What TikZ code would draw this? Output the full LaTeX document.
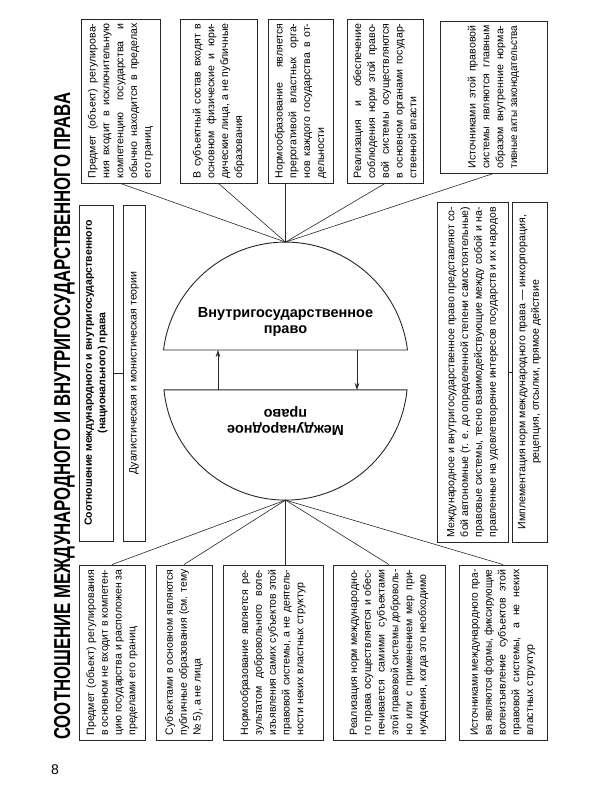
\documentclass[tikz,border=0pt]{standalone}
\usepackage{fontspec}
\setmainfont{Liberation Sans}
\usepackage{graphicx}
\usetikzlibrary{arrows.meta}
\newcommand\jl[1]{\setbox0=\hbox{#1}\ifdim\wd0>\hsize\hbox to\hsize{\resizebox{\hsize}{\height}{#1}}\else\hbox to\hsize{\unhbox0}\fi}
\newcommand\jn[1]{\hbox{#1}}
\newcommand\tb[2]{\vbox{\hsize=#1pt\relax\parindent=0pt\parskip=0pt\lineskiplimit=0pt\fontsize{10.6}{13.8}\selectfont #2}}
\tikzset{
  box/.style={draw=black!85, line width=0.9pt, rotate=90, inner sep=0pt, font=\fontsize{10.6}{13.4}\selectfont},
  link/.style={draw=black!85, line width=0.6pt},
  dome/.style={draw=black!85, line width=0.9pt},
  ctext/.style={font=\bfseries\fontsize{14.5}{15.5}\selectfont, align=center, inner sep=0pt},
  arr/.style={draw=black!85, line width=0.6pt, -{Stealth[length=7pt,width=4.5pt]}}
}
\begin{document}
\begin{tikzpicture}[x=1pt,y=1pt]
\useasboundingbox (0,0) rectangle (600,-800);
% title and page number
\node[rotate=90, anchor=base west, inner sep=0pt, font=\bfseries\fontsize{23}{23}\selectfont] (title) at (70,-740)
  {\resizebox{647pt}{\height}{СООТНОШЕНИЕ МЕЖДУНАРОДНОГО И ВНУТРИГОСУДАРСТВЕННОГО ПРАВА}};
\node[font=\fontsize{14}{14}\selectfont, inner sep=0pt] (pg) at (55,-770) {8};
% top boxes
\node[box, minimum width=164pt, minimum height=79pt] (T1) at (120.5,-101) {\tb{155}{%
\jl{Предмет (объект) регулирова-}
\jl{ния входит в исключительную}
\jl{компетенцию государства и}
\jl{обычно находится в пределах}
\jn{его границ}}};
\node[box, minimum width=164pt, minimum height=77pt] (T2) at (218.5,-101) {\tb{155}{%
\jl{В субъектный состав входят в}
\jl{основном физические и юри-}
\jl{дические лица, а не публичные}
\jn{образования}}};
\node[box, minimum width=164pt, minimum height=65pt] (T3) at (300.5,-101) {\tb{155}{%
\jl{Нормообразование является}
\jl{прерогативой властных орга-}
\jl{нов каждого государства в от-}
\jn{дельности}}};
\node[box, minimum width=164pt, minimum height=76pt] (T4) at (385,-101) {\tb{155}{%
\jl{Реализация и обеспечение}
\jl{соблюдения норм этой право-}
\jl{вой системы осуществляются}
\jl{в основном органами государ-}
\jn{ственной власти}}};
\node[box, minimum width=152pt, minimum height=107pt] (T5) at (493.5,-97) {\tb{143}{%
\jl{Источниками этой правовой}
\jl{системы являются главным}
\jl{образом внутренние норма-}
\jl{тивные акты законодательства}}};
% bottom boxes
\node[box, minimum width=175pt, minimum height=66pt] (B1) at (112,-652.5) {\tb{166}{%
\jl{Предмет (объект) регулирования}
\jl{в основном не входит в компетен-}
\jl{цию государства и расположен за}
\jn{пределами его границ}}};
\node[box, minimum width=175pt, minimum height=56pt] (B2) at (184,-652.5) {\tb{166}{%
\jl{Субъектами в основном являются}
\jl{публичные образования (см. тему}
\jn{№ 5), а не лица}}};
\node[box, minimum width=175pt, minimum height=100pt] (B3) at (273,-652.5) {\tb{166}{%
\jl{Нормообразование является ре-}
\jl{зультатом добровольного воле-}
\jl{изъявления самих субъектов этой}
\jl{правовой системы, а не деятель-}
\jn{ности неких властных структур}}};
\node[box, minimum width=175pt, minimum height=112pt] (B4) at (389,-652.5) {\tb{166}{%
\jl{Реализация норм международно-}
\jl{го права осуществляется и обес-}
\jl{печивается самими субъектами}
\jl{этой правовой системы доброволь-}
\jl{но или с применением мер при-}
\jn{нуждения, когда это необходимо}}};
\node[box, minimum width=175pt, minimum height=88pt] (B5) at (503,-652.5) {\tb{166}{%
\jl{Источниками международного пра-}
\jl{ва являются формы, фиксирующие}
\jl{волеизъявление субъектов этой}
\jl{правовой системы, а не неких}
\jn{властных структур}}};
% left boxes
\node[box, minimum width=336pt, minimum height=34pt, align=center, font=\bfseries\fontsize{10.5}{13.6}\selectfont] (L1) at (96,-373)
  {Соотношение международного и внутригосударственного\\(национального) права};
\node[box, minimum width=336pt, minimum height=22pt] (L2) at (134,-373) {Дуалистическая и монистическая теории};
% right boxes
\node[box, minimum width=340pt, minimum height=71pt] (R1) at (472.5,-372) {\tb{330}{%
\jl{Международное и внутригосударственное право представляют со-}
\jl{бой автономные (т. е. до определенной степени самостоятельные)}
\jl{правовые системы, тесно взаимодействующие между собой и на-}
\jl{правленные на удовлетворение интересов государств и их народов}}};
\node[box, minimum width=340pt, minimum height=35pt, align=center] (R2) at (529.5,-372)
  {Имплементация норм международного права — инкорпорация,\\рецепция, отсылки, прямое действие};
% domes
\draw[dome] (285.5,-365) ++(173:122.9) arc[start angle=173, end angle=7, radius=122.9] -- cycle;
\draw[dome] (285.5,-378) ++(185.6:122.1) arc[start angle=185.6, end angle=354.4, radius=122.1] -- cycle;
\coordinate (apex) at (285.5,-242.1);
\coordinate (bot) at (285.5,-500.1);
\node[ctext] (inner) at (285.5,-322) {Внутригосударственное\\право};
\node[ctext, rotate=180] (intl) at (285.5,-421) {Международное\\право};
\coordinate (uL) at (218,-350);
\coordinate (lL) at (218,-390);
\coordinate (uR) at (357,-350);
\coordinate (lR) at (357,-390);
\draw[arr] (lL) -- (uL);
\draw[arr] (uR) -- (lR);
% connectors
\draw[link] (apex) -- (T1.west);
\draw[link] (apex) -- (T2.west);
\draw[link] (apex) -- (apex |- T3.west);
\draw[link] (apex) -- (T4.west);
\draw[link] (apex) -- (T5.west);
\draw[link] (bot) -- (B1.east);
\draw[link] (bot) -- (B2.east);
\draw[link] (bot) -- (bot |- B3.east);
\draw[link] (bot) -- (B4.east);
\draw[link] (bot) -- (B5.east);
\draw[link] (L1) -- (L2);
\draw[link] (R1) -- (R2);
\end{tikzpicture}
\end{document}
